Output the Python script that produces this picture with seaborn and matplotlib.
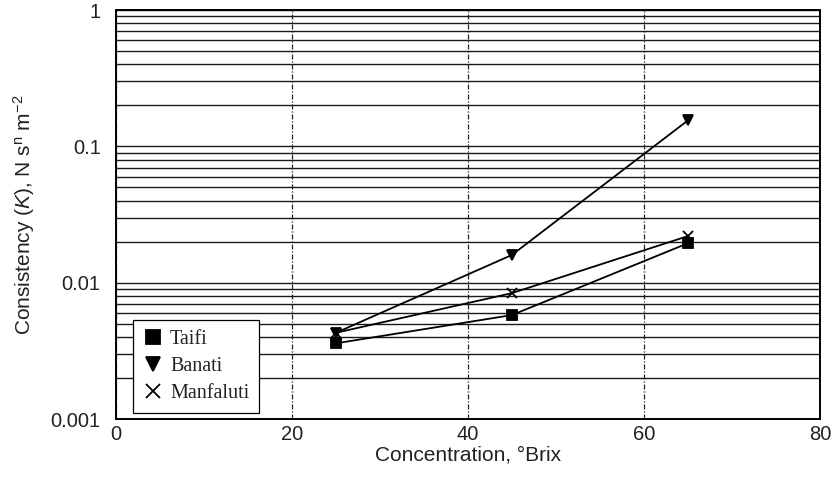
import numpy as np
import pandas as pd
import matplotlib
matplotlib.use("Agg")
import matplotlib.pyplot as plt
import seaborn as sns
from matplotlib.ticker import FixedLocator, FixedFormatter, LogLocator, NullFormatter

# Consistency coefficient K (N s^n m^-2) against concentration (°Brix)
brix = [25, 45, 65]
taifi = [0.0036, 0.0058, 0.0195]
banati = [0.0043, 0.016, 0.155]
manfaluti = [0.0043, 0.0084, 0.022]

series_names = ["Taifi", "Banati", "Manfaluti"]
series_values = [taifi, banati, manfaluti]

x_ticks = [0, 20, 40, 60, 80]
y_ticks = [0.001, 0.01, 0.1, 1]
y_tick_labels = ["0.001", "0.01", "0.1", "1"]

sns.set_theme(style="white")
plt.rcParams["font.family"] = ["Liberation Sans", "DejaVu Sans"]
plt.rcParams["mathtext.fontset"] = "custom"
plt.rcParams["mathtext.rm"] = "Liberation Sans"
plt.rcParams["mathtext.it"] = "Liberation Sans:italic"

fig = plt.figure(figsize=(8.34, 4.78), dpi=100)
ax = fig.add_axes([0.139, 0.123, 0.844, 0.856])

markers = {"Taifi": "s", "Banati": "v", "Manfaluti": "x"}
handles = []
for name, vals in zip(series_names, series_values):
    df = pd.DataFrame({"brix": brix, "K": vals})
    sns.lineplot(data=df, x="brix", y="K", ax=ax, color="black",
                 linewidth=1.3, marker=markers[name], markersize=7,
                 markeredgecolor="black", markerfacecolor="black",
                 markeredgewidth=1.3, zorder=5)
    h, = ax.plot([], [], linestyle="none", marker=markers[name],
                 color="black", markersize=9.5, markeredgewidth=1.3,
                 label=name)
    handles.append(h)

ax.set_yscale("log")
ax.set_ylim(0.001, 1)
ax.set_xlim(0, 80)

ax.xaxis.set_major_locator(FixedLocator(x_ticks))
ax.yaxis.set_major_locator(FixedLocator(y_ticks))
ax.yaxis.set_major_formatter(FixedFormatter(y_tick_labels))
ax.yaxis.set_minor_locator(LogLocator(base=10, subs=np.arange(2, 10)))
ax.yaxis.set_minor_formatter(NullFormatter())

# horizontal rules at every decade and sub-decade, dashed verticals
ax.grid(True, which="major", axis="y", color="0.1", linewidth=1.0)
ax.grid(True, which="minor", axis="y", color="0.1", linewidth=1.0)
ax.grid(True, which="major", axis="x", color="0.15", linewidth=0.9,
        linestyle=(0, (4, 1.5, 1, 1.5)))
ax.set_axisbelow(True)

for s in ax.spines.values():
    s.set_color("black")
    s.set_linewidth(1.4)

ax.tick_params(axis="both", which="both", length=0, labelsize=14.5,
               colors="#222222")
ax.tick_params(axis="y", pad=11)
ax.tick_params(axis="x", pad=4)

ax.set_xlabel("Concentration, °Brix", fontsize=15, color="#222222",
              labelpad=1)
ax.set_ylabel(r"Consistency ($\mathit{K}$), N s$^{\mathrm{n}}$ m$^{\mathrm{-2}}$",
              fontsize=15, color="#222222", labelpad=10)

leg = ax.legend(handles=handles, loc="lower left",
                bbox_to_anchor=(0.024, 0.014), borderaxespad=0,
                frameon=True, fancybox=False, edgecolor="black",
                framealpha=1, borderpad=0.5, labelspacing=0.4,
                handletextpad=0.35, handlelength=1.0,
                prop={"family": "Liberation Serif", "size": 14.5})
leg.get_frame().set_linewidth(0.9)
for t in leg.get_texts():
    t.set_color("#222222")

fig.savefig("out.png", dpi=100, facecolor="white")
